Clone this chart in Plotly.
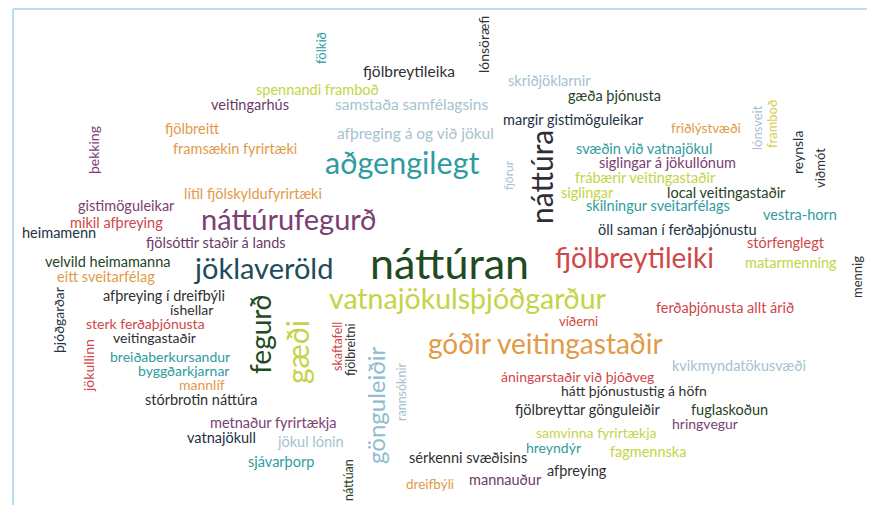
import plotly.graph_objects as go

# palette
C = {
    "teal": "#2e9c9f", "navy": "#23323f", "dkgreen": "#26421f", "orange": "#e29a48",
    "lime": "#c4d446", "red": "#cf4747", "purple": "#7b3e73", "ltblue": "#a5c2ce",
    "dark": "#2f2f33", "yellow": "#d9cc4c", "blue": "#8fbcd1", "forest": "#1f4a22",
    "deepteal": "#1f4b5c", "plum": "#6b3a68",
}

words = [
    "fölkið", "fjölbreytileika", "lónsöræfi", "spennandi framboð", "veitingarhús",
    "samstaða samfélagsins", "skriðjöklarnir", "gæða þjónusta", "margir gistimöguleikar",
    "fjölbreitt", "afþreging á og við jökul", "þekking", "framsækin fyrirtæki",
    "aðgengilegt", "náttúra", "fjörur", "friðlýstvæði", "lónsveit", "framboð",
    "reynsla", "viðmót", "svæðin við vatnajökul", "siglingar á jökullónum",
    "frábærir veitingastaðir", "siglingar", "local veitingastaðir",
    "skilningur sveitarfélags", "vestra-horn", "öll saman í ferðaþjónustu",
    "stórfenglegt", "matarmenning", "mennig", "fjölbreytileiki", "náttúran",
    "jöklaveröld", "lítil fjölskyldufyrirtæki", "gistimöguleikar", "mikil afþreying",
    "heimamenn", "náttúrufegurð", "fjölsóttir staðir á lands", "velvild heimamanna",
    "eitt sveitarfélag", "afþreying í dreifbýli", "íshellar", "sterk ferðaþjónusta",
    "veitingastaðir", "þjóðgarðar", "jökullinn", "breiðaberkursandur",
    "byggðarkjarnar", "mannlíf", "stórbrotin náttúra", "fegurð", "gæði",
    "vatnajökulsþjóðgarður", "skaftafell", "fjölbreitni", "gönguleiðir", "rannsóknir",
    "víðerni", "ferðaþjónusta allt árið", "góðir veitingastaðir", "kvikmyndatökusvæði",
    "áningarstaðir við þjóðveg", "hátt þjónustustig á höfn", "fjölbreyttar gönguleiðir",
    "fuglaskoðun", "hringvegur", "samvinna fyrirtækja", "hreyndýr", "fagmennska",
    "sérkenni svæðisins", "afþreying", "mannauður", "dreifbýli", "náttúan",
    "metnaður fyrirtækja", "vatnajökull", "jökul lónin", "sjávarþorp",
]

word_x = [
    321, 409, 483, 317, 250, 411, 549, 614, 573, 192, 415, 93, 235,
    402, 541, 508, 706, 757, 772, 797, 820, 644, 667, 645, 587, 726,
    658, 800, 677, 786, 791, 857, 634, 449, 263, 253, 126, 116, 59,
    288, 216, 107, 106, 164, 191, 145, 154, 58, 88, 170, 183, 202,
    201, 260, 297, 468, 337, 350, 375, 401, 578, 725, 545, 739, 577,
    634, 587, 729, 705, 596, 553, 648, 468, 577, 505, 430, 348, 273,
    221, 310, 281,
]

word_y = [
    48, 71, 45, 89, 104, 104, 80, 95, 119, 128, 133, 150, 148,
    162, 177, 175, 128, 128, 124, 153, 168, 148, 162, 177, 192, 192,
    205, 214, 229, 242, 262, 277, 257, 262, 267, 193, 205, 222, 232,
    218, 242, 261, 276, 295, 309, 323, 337, 320, 366, 356, 370, 384,
    399, 335, 352, 298, 347, 350, 405, 392, 321, 307, 343, 365, 376,
    390, 409, 409, 423, 432, 447, 451, 457, 470, 479, 484, 480, 422,
    437, 441, 461,
]

word_size = [
    13, 15.5, 14, 14.5, 14.5, 15.5, 14.5, 14.5, 14.5, 14.5, 15.5, 14, 14.5,
    30.5, 30, 12, 13.5, 13, 13, 14, 13, 14.5, 14.5, 14.5, 14.5, 14.5,
    14.5, 14.5, 14.5, 14.5, 14.5, 13, 28, 43, 29, 14.5, 14.5, 14.5, 14.5,
    29, 14.5, 14.5, 14.5, 14.5, 14, 14, 14, 14, 14, 14, 14, 14,
    14.5, 28, 30, 28.5, 12.5, 12.5, 24, 12.5, 13, 14.5, 28, 14.5, 14,
    14, 14.5, 14.5, 14, 14, 14, 14.5, 14.5, 14.5, 14.5, 13.5, 12.5, 14.5,
    14.5, 14.5, 14.5,
]

word_color = [
    "teal", "dark", "dark", "lime", "plum", "ltblue", "ltblue", "dkgreen", "navy",
    "orange", "ltblue", "purple", "orange", "teal", "dark", "ltblue", "orange",
    "ltblue", "yellow", "navy", "dark", "teal", "purple", "lime", "lime", "dkgreen",
    "teal", "teal", "navy", "red", "lime", "dark", "red", "forest", "deepteal",
    "orange", "purple", "red", "navy", "purple", "plum", "dkgreen", "orange",
    "dark", "dark", "red", "dark", "navy", "red", "teal", "teal", "orange", "dark",
    "forest", "lime", "lime", "red", "dark", "blue", "ltblue", "red", "red",
    "orange", "ltblue", "red", "dark", "dark", "dkgreen", "purple", "lime", "teal",
    "lime", "dark", "dark", "plum", "orange", "dkgreen", "purple", "navy", "ltblue",
    "teal",
]

vertical = {
    "fölkið", "lónsöræfi", "þekking", "náttúra", "fjörur", "lónsveit", "framboð",
    "reynsla", "viðmót", "mennig", "þjóðgarðar", "jökullinn", "fegurð", "gæði",
    "skaftafell", "fjölbreitni", "gönguleiðir", "rannsóknir", "náttúan",
}

# compensate for the page's default 8px body margin (and avoid scrollbars)
OFF = 8
W, H = 875, 513
X1, Y1 = W - OFF, H - OFF
fig = go.Figure()
fig.add_trace(go.Scatter(x=[OFF, X1], y=[OFF, Y1], mode="markers",
                         marker=dict(opacity=0), hoverinfo="skip", showlegend=False))

anns = []
for w, x, y, s, c in zip(words, word_x, word_y, word_size, word_color):
    anns.append(dict(
        x=x, y=y, xref="x", yref="y", text=w, showarrow=False,
        textangle=-90 if w in vertical else 0,
        xanchor="center", yanchor="middle", borderpad=0,
        font=dict(family="Lato", size=s, color=C[c]),
    ))

fig.update_layout(
    width=X1 - OFF, height=Y1 - OFF, margin=dict(l=0, r=0, t=0, b=0),
    paper_bgcolor="white", plot_bgcolor="white",
    xaxis=dict(range=[OFF, X1], visible=False, fixedrange=True),
    yaxis=dict(range=[Y1, OFF], visible=False, fixedrange=True),
    annotations=anns,
    shapes=[
        dict(type="line", xref="x", yref="y", x0=13, x1=X1, y0=9, y1=9,
             line=dict(color="#a3d5e8", width=1.5)),
        dict(type="line", xref="x", yref="y", x0=13, x1=13, y0=9, y1=Y1,
             line=dict(color="#a3d5e8", width=1.5)),
    ],
)

fig.write_html("out.html")
